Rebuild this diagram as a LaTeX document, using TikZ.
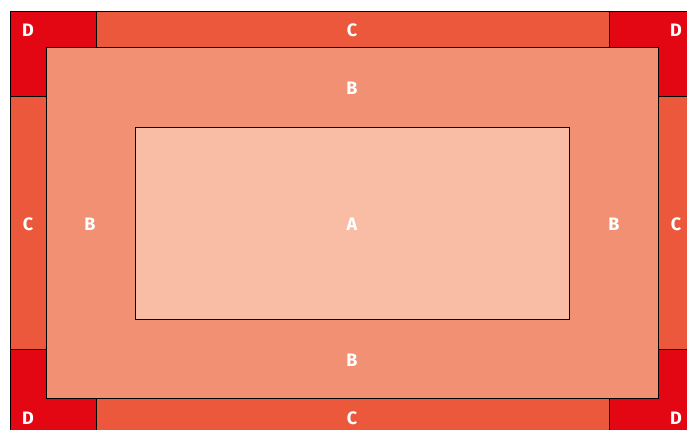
\documentclass[tikz,border=0pt]{standalone}
\usepackage{fontspec}
\setmainfont{Fira Sans}
\definecolor{colA}{RGB}{249,189,166}
\definecolor{colB}{RGB}{241,144,115}
\definecolor{colC}{RGB}{236,88,60}
\definecolor{colD}{RGB}{227,6,19}
\begin{document}
\begin{tikzpicture}[x=1pt,y=-1pt,
  zone/.style={draw=black,line width=0.9pt},
  lbl/.style={text=white,font=\fontsize{18}{18}\selectfont\bfseries,inner sep=0pt}]
\useasboundingbox (0,0) rectangle (687,430);
\clip (0,0) rectangle (687,430);
\fill[white] (0,0) rectangle (687,430);
\filldraw[zone,fill=colC] (10,11) rectangle (694,434);
\filldraw[zone,fill=colD] (10,11) rectangle (96,96);
\filldraw[zone,fill=colD] (609,11) rectangle (694,96);
\filldraw[zone,fill=colD] (10,349) rectangle (96,434);
\filldraw[zone,fill=colD] (609,349) rectangle (694,434);
\filldraw[zone,fill=colB] (46,47) rectangle (658,398);
\filldraw[zone,fill=colA] (135,127) rectangle (569,319);
\node[lbl] (d1) at (28,30) {D};
\node[lbl] (d2) at (676,30) {D};
\node[lbl] (d3) at (28,418) {D};
\node[lbl] (d4) at (676,418) {D};
\node[lbl] (c1) at (352,30) {C};
\node[lbl] (c2) at (352,418) {C};
\node[lbl] (c3) at (28,224) {C};
\node[lbl] (c4) at (676,224) {C};
\node[lbl] (b1) at (352,88) {B};
\node[lbl] (b2) at (352,360) {B};
\node[lbl] (b3) at (90,224) {B};
\node[lbl] (b4) at (614,224) {B};
\node[lbl] (a) at (352,224) {A};
\end{tikzpicture}
\end{document}
